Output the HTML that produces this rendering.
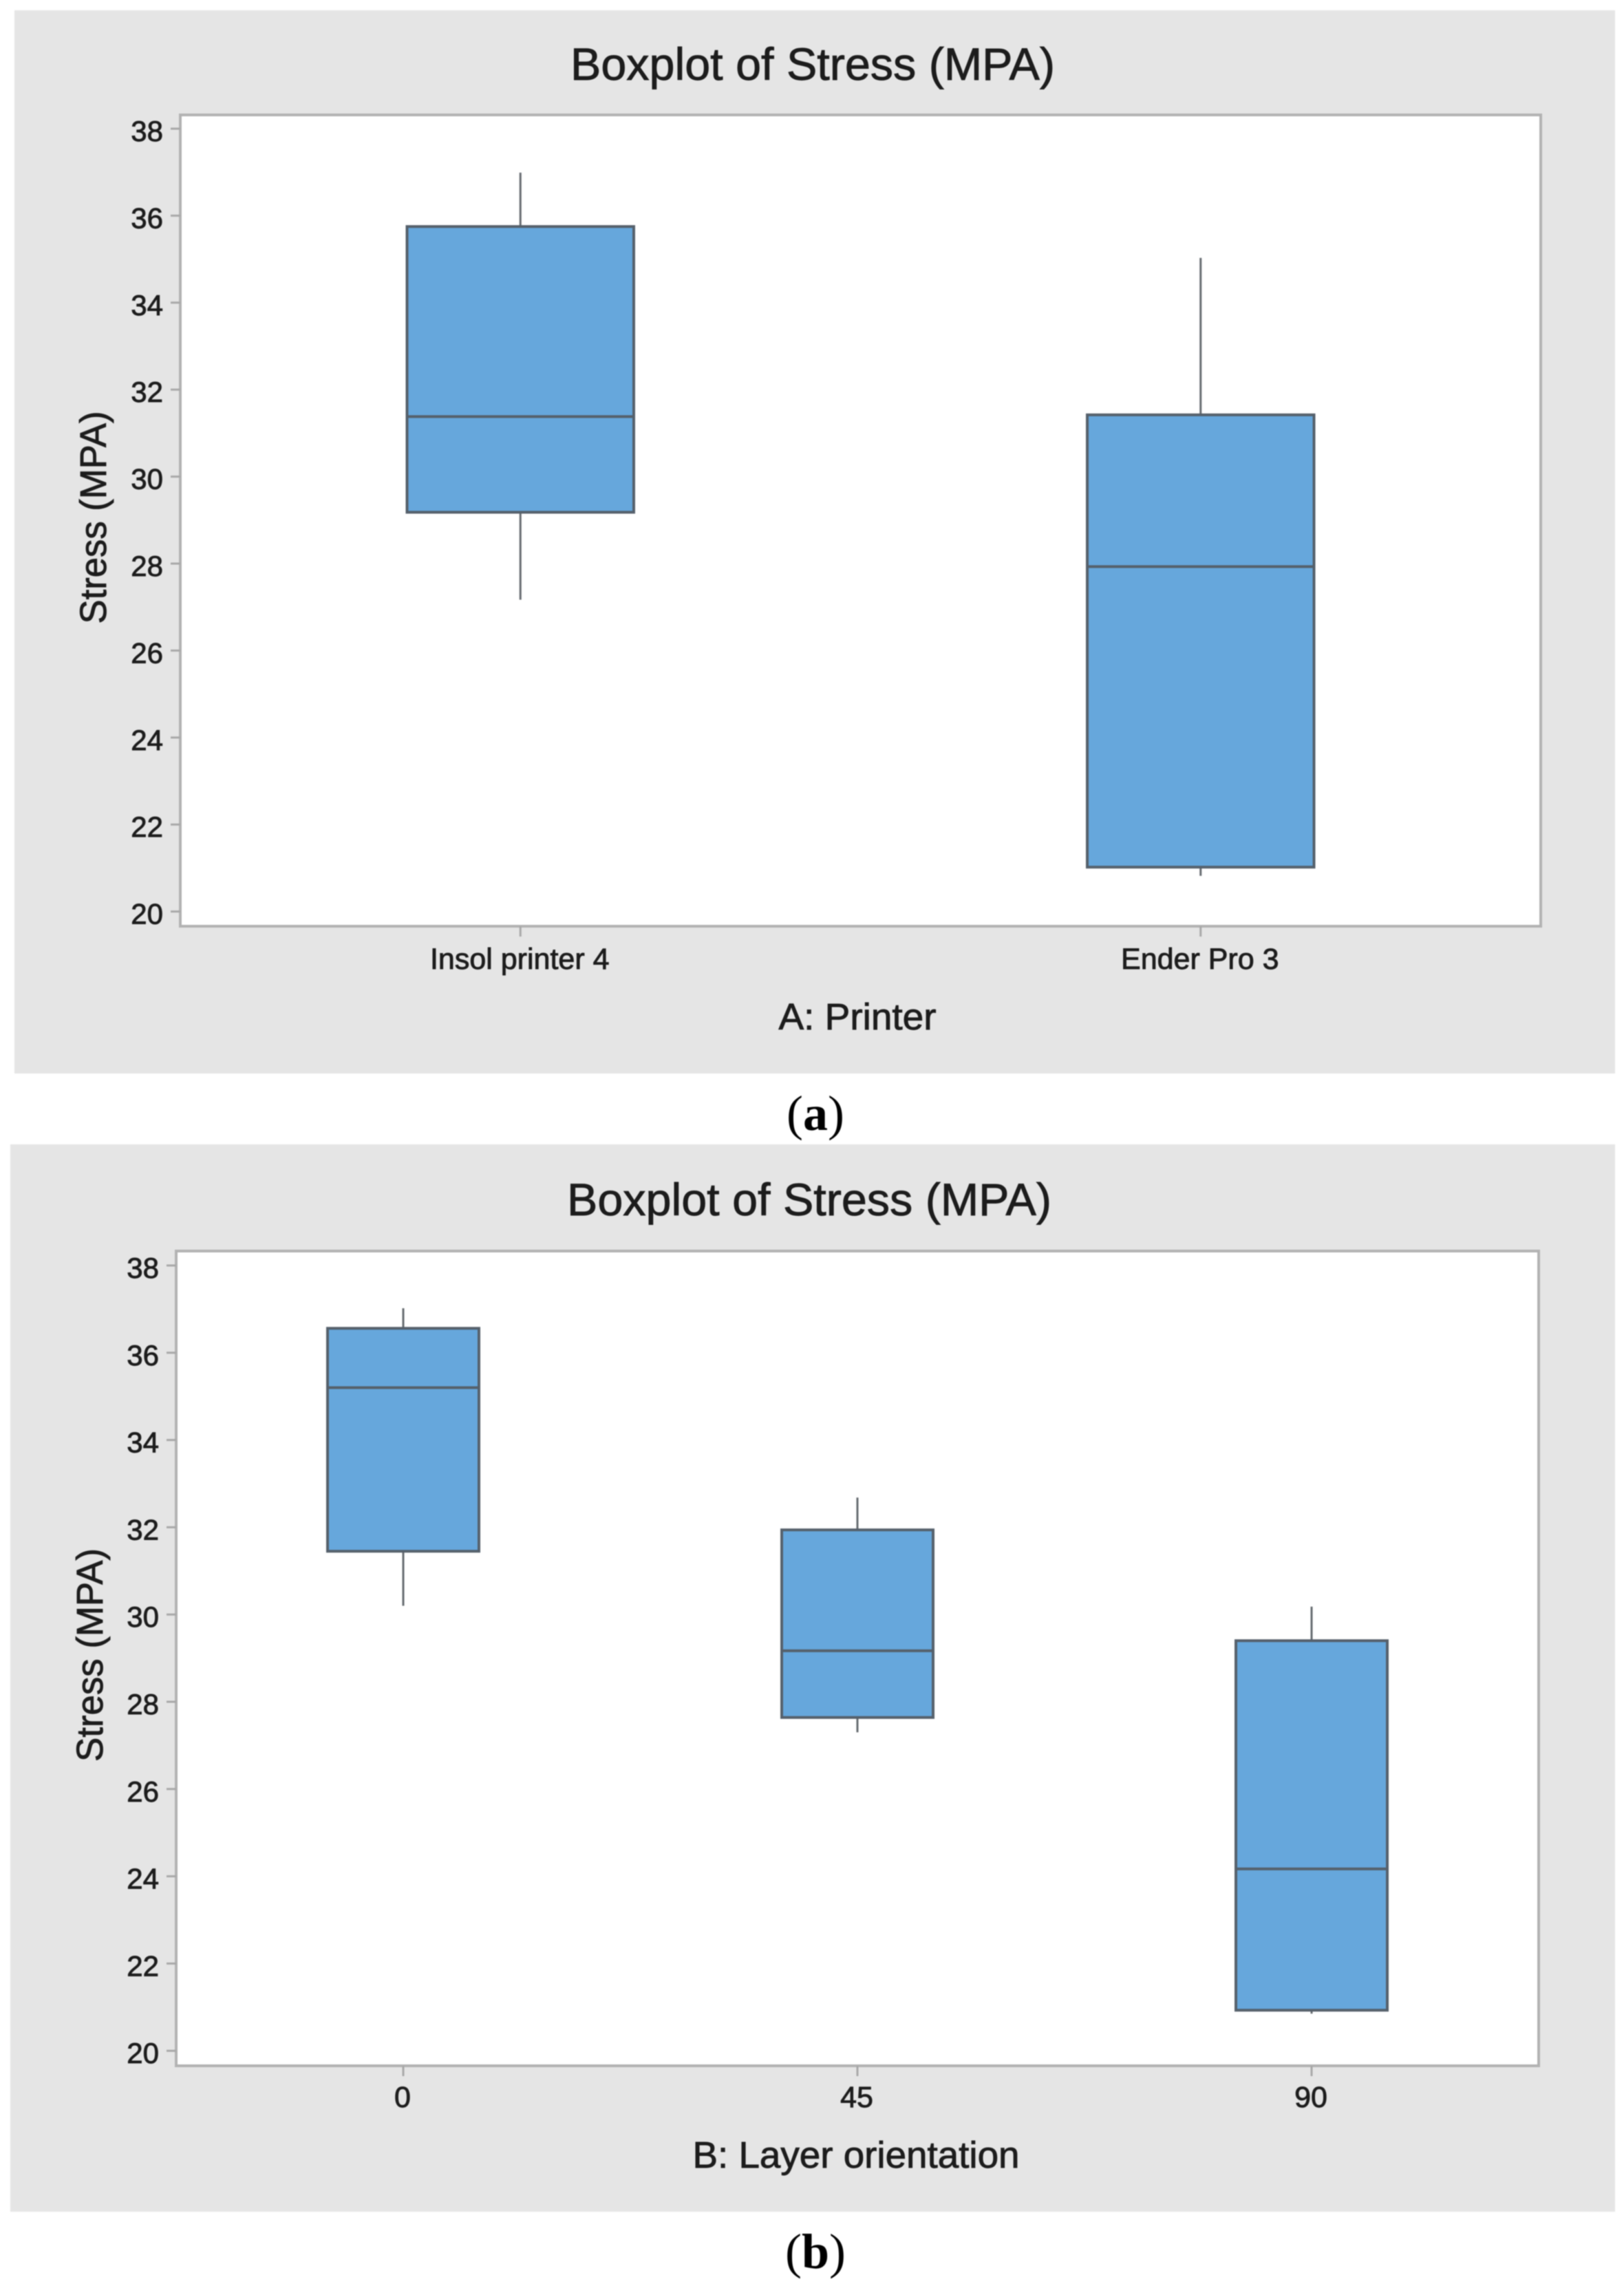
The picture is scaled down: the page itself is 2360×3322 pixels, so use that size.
<!DOCTYPE html>
<html lang="en">
<head>
<meta charset="utf-8">
<title>Boxplots of Stress (MPA)</title>
<style>
html,body{margin:0;padding:0;background:#fff;}
svg{display:block;filter:blur(0.7px);}
text{font-family:"Liberation Sans",sans-serif;fill:#1c1c1c;stroke:#1c1c1c;stroke-width:0.9px;}
.cap{font-family:"Liberation Serif",serif;fill:#000;stroke:none;font-size:72px;}
</style>
</head>
<body>
<svg id="fig" xmlns="http://www.w3.org/2000/svg" width="2360" height="3322" viewBox="0 0 2360 3322">
  <rect width="2360" height="3322" fill="#ffffff"/>

  <g id="chartA">
    <rect x="21" y="15" width="2326" height="1545" fill="#e5e5e5"/>
    <text x="1181" y="116" text-anchor="middle" font-size="66" textLength="704" lengthAdjust="spacingAndGlyphs">Boxplot of Stress (MPA)</text>
    <text transform="translate(154 752) rotate(-90)" text-anchor="middle" font-size="54" textLength="309" lengthAdjust="spacingAndGlyphs">Stress (MPA)</text>
    <text x="1246" y="1496" text-anchor="middle" font-size="54" textLength="229" lengthAdjust="spacingAndGlyphs">A: Printer</text>
  </g>
  <text class="cap" x="1185" y="1642" text-anchor="middle">(<tspan font-weight="bold">a</tspan>)</text>

  <g id="chartB">
    <rect x="15" y="1663" width="2332" height="1551" fill="#e5e5e5"/>
    <text x="1176" y="1766" text-anchor="middle" font-size="66" textLength="704" lengthAdjust="spacingAndGlyphs">Boxplot of Stress (MPA)</text>
    <text transform="translate(149 2405) rotate(-90)" text-anchor="middle" font-size="54" textLength="310" lengthAdjust="spacingAndGlyphs">Stress (MPA)</text>
    <text x="1244" y="3150" text-anchor="middle" font-size="54" textLength="475" lengthAdjust="spacingAndGlyphs">B: Layer orientation</text>
  </g>
  <text class="cap" x="1185" y="3296" text-anchor="middle">(<tspan font-weight="bold">b</tspan>)</text>
</svg>

<script>
// Shared axis labels
const yTickValues = [20, 22, 24, 26, 28, 30, 32, 34, 36, 38];

// Chart A: stress by printer
const categoriesA = ['Insol printer 4', 'Ender Pro 3'];
const whiskerHighA = [36.99, 35.03];
const q3A = [35.75, 31.42];
const medianA = [31.38, 27.93];
const q1A = [29.18, 21.02];
const whiskerLowA = [27.17, 20.82];

// Chart B: stress by layer orientation
const categoriesB = ['0', '45', '90'];
const whiskerHighB = [37.02, 32.68, 30.18];
const q3B = [36.56, 31.94, 29.4];
const medianB = [35.2, 29.17, 24.17];
const q1B = [31.45, 27.64, 20.93];
const whiskerLowB = [30.2, 27.3, 20.85];

const NS = 'http://www.w3.org/2000/svg';
function mk(parent, tag, attrs) {
  const el = document.createElementNS(NS, tag);
  for (const k in attrs) el.setAttribute(k, attrs[k]);
  parent.appendChild(el);
  return el;
}

function drawChart(g, frame, categories, hi, q3, med, q1, lo) {
  const y = v => frame.y38 + (38 - v) * frame.unit;
  const band = (frame.right - frame.left) / categories.length;
  const x = i => frame.left + band * (i + 0.5);
  const boxW = band / 3;

  const plot = mk(g, 'rect', {x: frame.left, y: frame.top, width: frame.right - frame.left, height: frame.bottom - frame.top, fill: '#ffffff', stroke: '#b2b2b2', 'stroke-width': 4});
  
  

  yTickValues.forEach(v => {
    const tick = mk(g, 'line', {x1: frame.left - 14, x2: frame.left, y1: y(v), y2: y(v), stroke: '#a8a8a8', 'stroke-width': 3});
    
    
    const label = mk(g, 'text', {x: frame.left - 25, y: y(v) + 18, 'text-anchor': 'end', 'font-size': 42});
    
    
    label.textContent = String(v);
  });

  categories.forEach((c, i) => {
    const tick = mk(g, 'line', {x1: x(i), x2: x(i), y1: frame.bottom, y2: frame.bottom + 15, stroke: '#a8a8a8', 'stroke-width': 3});
    
    
    const label = mk(g, 'text', {x: x(i) - 1, y: frame.labelY, 'text-anchor': 'middle', 'font-size': 43});
    
    
    label.textContent = c;

    const whisker = mk(g, 'line', {x1: x(i), x2: x(i), y1: y(hi[i]), y2: y(lo[i]), stroke: '#666b70', 'stroke-width': 3});
    
    

    const box = mk(g, 'rect', {x: x(i) - boxW / 2, y: y(q3[i]), width: boxW, height: y(q1[i]) - y(q3[i]), fill: '#66a7dc', stroke: '#55606b', 'stroke-width': 4});
    
    

    const median = mk(g, 'line', {x1: x(i) - boxW / 2, x2: x(i) + boxW / 2, y1: y(med[i]), y2: y(med[i]), stroke: '#55606b', 'stroke-width': 4});
    
    
  });
}

drawChart(document.getElementById('chartA'),
  {left: 262, right: 2239, top: 167, bottom: 1346, y38: 187, unit: 63.2, labelY: 1408},
  categoriesA, whiskerHighA, q3A, medianA, q1A, whiskerLowA);
drawChart(document.getElementById('chartB'),
  {left: 256, right: 2236, top: 1818, bottom: 3002, y38: 1839, unit: 63.4, labelY: 3062},
  categoriesB, whiskerHighB, q3B, medianB, q1B, whiskerLowB);
</script>
</body>
</html>
